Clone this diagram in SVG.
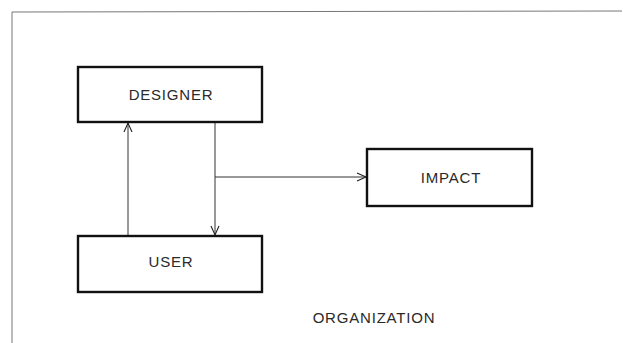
<svg xmlns="http://www.w3.org/2000/svg" width="623" height="343" viewBox="0 0 623 343">
<style>
.box{fill:#fff;stroke:#111;stroke-width:2.4}
.lbl{font-family:"Liberation Sans",Arial,sans-serif;font-size:15px;fill:#2a2a2a;text-anchor:middle;letter-spacing:0.8px}
.con{stroke:#333;stroke-width:1;fill:none}
.frame{stroke:#777;stroke-width:1;fill:none}
</style>
<defs>
<marker id="arr" markerWidth="12" markerHeight="12" refX="10" refY="5" orient="auto" markerUnits="userSpaceOnUse">
<path d="M1,1 L10,5 L1,9" fill="none" stroke="#222" stroke-width="1.1"/>
</marker>
</defs>
<rect width="623" height="343" fill="#fff"/>
<path class="frame" d="M12,343 L12,12 L622,11"/>
<g id="connectors">
<line class="con" x1="128" y1="236" x2="128" y2="123" marker-end="url(#arr)"/>
<line class="con" x1="215" y1="123" x2="215" y2="235" marker-end="url(#arr)"/>
<line class="con" x1="215" y1="177" x2="366" y2="177" marker-end="url(#arr)"/>
</g>
<g id="designer">
<rect class="box" x="78" y="67" width="184" height="55"/>
<text class="lbl" x="171" y="100">DESIGNER</text>
</g>
<g id="user">
<rect class="box" x="78" y="236" width="184" height="56"/>
<text class="lbl" x="171" y="267">USER</text>
</g>
<g id="impact">
<rect class="box" x="367" y="149" width="165" height="57"/>
<text class="lbl" x="451" y="183">IMPACT</text>
</g>
<g id="organization">
<text class="lbl" x="374" y="323">ORGANIZATION</text>
</g>
</svg>
